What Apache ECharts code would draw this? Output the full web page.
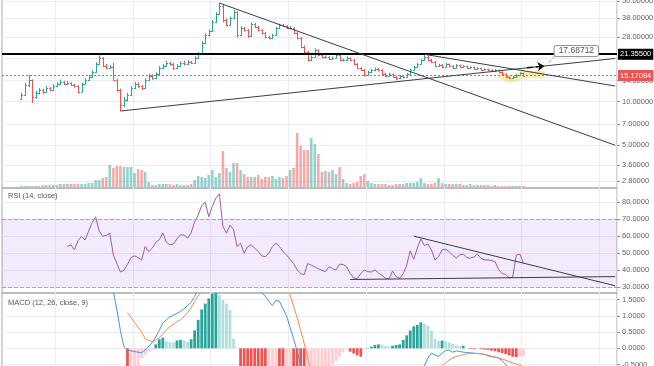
<!DOCTYPE html>
<html><head><meta charset="utf-8">
<script src="https://cdn.jsdelivr.net/npm/echarts@6/dist/echarts.min.js"></script>
<style>html,body{margin:0;padding:0;background:#fff}#c{width:654px;height:366px}</style>
</head><body><div id="c"></div>
<script>
// ---------- data ----------
const START = 5; // index of first bar
const opens = [10.5,11.11,13.04,14.13,10.76,11.47,12.04,11.66,12.43,12.04,
12.83,13.25,13.68,13.25,13.46,13.04,12.83,11.66,13.25,14.13,
14.82,16.05,18.25,20.1,17.67,17.12,17.39,14.13,12.04,9.47,
10.26,11.11,12.43,13.25,12.83,12.43,14.13,15.06,14.58,15.55,
17.12,17.67,18.54,18.25,17.12,17.67,18.54,18.25,18.84,18.54,
20.1,21.4,25.5,29.0,30.9,35.7,40.6,46.15,36.9,34.05,
38.1,41.9,29.0,32.5,31.4,28.6,34.6,33.0,31.4,29.96,
28.1,27.7,29.0,32.5,34.05,33.5,32.5,32.7,29.96,27.7,
23.95,22.1,19.45,20.4,22.8,21.07,20.4,20.5,19.8,20.1,
21.07,19.45,19.5,20.1,19.45,18.25,17.12,16.58,15.3,16.05,
16.58,16.84,16.58,15.55,15.06,15.55,14.82,14.58,15.06,14.82,
15.55,16.58,17.39,18.25,19.45,20.4,19.45,18.84,17.67,17.96,
17.39,18.25,17.67,17.12,17.96,17.39,17.67,17.12,17.39,16.84,
17.12,16.58,16.84,16.58,16.31,16.58,16.05,15.55,14.82,14.58,
14.82,15.3,15.8];
const highs = [11.5,13.5,15.3,14.3,11.9,12.4,12.3,12.8,12.6,13.2,
13.6,14.2,13.9,13.9,13.6,13.3,13.0,13.5,14.5,15.3,
16.5,18.8,21.0,20.4,18.3,18.0,18.6,14.4,12.3,10.8,
11.5,12.8,13.7,13.6,13.1,14.5,15.6,15.5,16.0,17.6,
18.2,19.2,18.9,18.5,18.2,19.0,19.2,19.5,19.2,20.6,
22.0,26.3,29.8,31.8,36.8,41.8,48.4,47.0,37.8,39.0,
43.3,42.5,33.4,33.0,31.9,35.5,35.3,33.6,31.9,30.5,
28.7,29.6,33.1,34.8,34.6,34.0,33.5,32.9,30.4,28.1,
24.5,22.5,20.9,23.4,23.1,21.5,20.9,20.7,20.6,21.6,
21.3,19.9,20.6,20.3,19.7,18.5,17.4,16.9,16.4,16.9,
17.2,17.1,16.8,15.8,15.9,15.7,15.1,15.3,15.2,15.8,
16.9,17.7,18.6,19.8,21.3,20.8,19.8,19.1,18.3,18.2,
18.6,18.4,17.9,18.2,18.1,17.9,17.8,17.6,17.5,17.3,
17.2,17.0,16.9,16.7,16.8,16.7,16.2,15.7,15.0,15.1,
15.5,16.0,15.9];
const lows = [10.3,11.0,12.6,9.78,10.5,11.2,11.3,11.5,11.8,11.9,
12.6,13.0,13.0,13.1,12.8,12.5,11.4,11.6,13.1,13.9,
14.6,15.9,18.0,17.3,16.9,16.8,13.9,11.7,8.6,9.2,
10.0,10.9,12.2,12.5,12.0,12.3,13.9,14.2,14.4,15.3,
16.8,17.4,17.8,16.6,16.9,17.4,17.9,18.0,18.2,18.3,
19.8,21.1,25.0,28.3,30.4,35.0,40.0,35.5,33.3,33.6,
37.4,27.9,28.4,30.6,27.8,28.2,32.4,30.7,29.3,27.5,
27.0,27.3,28.7,32.0,32.8,31.9,31.8,29.4,27.1,23.4,
21.6,19.0,19.1,20.1,20.6,20.0,19.9,19.4,19.5,19.9,
19.1,19.0,19.2,19.1,17.9,16.8,16.3,15.0,15.1,15.8,
16.3,16.2,15.3,14.8,14.9,14.6,14.1,14.4,14.5,14.7,
15.4,16.4,17.2,18.0,19.2,19.1,18.5,17.4,17.5,17.1,
17.2,17.4,16.9,17.0,17.2,17.2,16.9,16.9,16.6,16.7,
16.4,16.4,16.3,16.1,16.2,15.8,15.3,14.6,14.3,14.4,
14.7,15.2,15.0];
const closes = [11.11,13.04,14.13,10.76,11.47,12.04,11.66,12.43,12.04,12.83,
13.25,13.68,13.25,13.46,13.04,12.83,11.66,13.25,14.13,14.82,
16.05,18.25,20.1,17.67,17.12,17.39,14.13,12.04,9.47,10.26,
11.11,12.43,13.25,12.83,12.43,14.13,15.06,14.58,15.55,17.12,
17.67,18.54,18.25,17.12,17.67,18.54,18.25,18.84,18.54,20.1,
21.4,25.5,29.0,30.9,35.7,40.6,46.15,36.9,34.05,38.1,
41.9,29.0,32.5,31.4,28.6,34.6,33.0,31.4,29.96,28.1,
27.7,29.0,32.5,34.05,33.5,32.5,32.7,29.96,27.7,23.95,
22.1,19.45,20.4,22.8,21.07,20.4,20.5,19.8,20.1,21.07,
19.45,19.5,20.1,19.45,18.25,17.12,16.58,15.3,16.05,16.58,
16.84,16.58,15.55,15.06,15.55,14.82,14.58,15.06,14.82,15.55,
16.58,17.39,18.25,19.45,20.4,19.45,18.84,17.67,17.96,17.39,
18.25,17.67,17.12,17.96,17.39,17.67,17.12,17.39,16.84,17.12,
16.58,16.84,16.58,16.31,16.58,16.05,15.55,14.82,14.58,14.82,
15.3,15.8,15.17084];
const volumes = [1,1,1,1,1,1,2,2,2,2,
2,3,3,3,3,3,3,3,3,4,
4,7,7,9,10,22,19,21,21,20,
20,20,14,18,17,15,5,2,2,3,
3,3,3,2,3,2,2,2,3,7,
11,10,9,12,17,10,14,36,19,15,
24,24,17,13,10,10,10,12,8,10,
10,11,8,10,9,11,17,19,54,41,
37,37,49,43,33,15,16,15,17,13,
20,8,4,3,4,5,11,13,6,4,
3,3,3,3,2,2,3,3,3,4,
4,4,5,9,4,3,3,4,9,4,
3,3,3,3,3,2,2,3,2,2,
2,2,2,1,2,1,1,1,1,1,
1,1,1];
const RSI_START = 18;
const rsi = [54,55,52,57.5,59.8,57.8,63,68,71.5,63,
60,60.5,61.8,49,44,39,40,43.5,47.5,48.5,
47.5,46,54,51,53,56.5,58,62,56.5,55,
55.5,58.5,60.8,60.8,59,62,68.5,72.5,78,80,
71.5,77.5,82.5,85,66,61.8,66.6,64,54,55.9,
50,53.9,55,53,51,48.5,48,50,54,55.9,
54,51,49,46.5,44,40.2,38,37.5,44,43,
42,41,40,39.2,42.1,41,40.2,43.5,43.5,42,
38.2,35.5,35,38,40.2,39.2,39,40.2,38.5,37,
35.3,35,39.6,36.2,35.3,38,43,51.5,46.5,53,
58.5,54.5,55.5,52,46,48,51.9,52.5,51,49,
47.3,49,49.5,47.5,47.1,47.8,49.5,47,46.1,46.1,
45.8,45.1,40.5,38,37.6,35.5,36,49,49.5,44.5];
const MACD_START = 30;
const macd = [2.2,1.75,1.2,0.55,0.05,-0.05,-0.08,-0.1,-0.12,-0.14,
-0.05,0.05,0.18,0.35,0.55,0.78,0.88,0.97,1.02,1.08,
1.14,1.22,1.32,1.42,1.6,1.85,2.1,2.4,2.6,2.8,
3.0,3.1,3.0,2.9,2.8,2.6,2.4,2.2,2.1,2.0,
1.9,1.8,1.75,1.72,1.6,1.45,1.32,1.48,1.45,1.22,
1.0,0.65,0.3,-0.1,-0.5,-0.9,-1.3,-1.4,-1.5,-1.6,
-1.65,-1.7,-1.72,-1.72,-1.7,-1.68,-1.65,-1.62,-1.6,-1.6,
-1.6,-1.58,-1.55,-1.5,-1.45,-1.4,-1.35,-1.3,-1.25,-1.2,
-1.15,-1.1,-1.05,-1.0,-0.95,-0.88,-0.8,-0.72,-0.63,-0.55,
-0.3,-0.15,-0.2,-0.25,-0.15,-0.07,-0.05,-0.12,-0.08,-0.1,
-0.12,-0.13,-0.14,-0.15,-0.16,-0.17,-0.19,-0.23,-0.26,-0.28,
-0.3,-0.38,-0.5,-0.65,-0.75,-0.8,-0.85,-0.9];
const SIGNAL_START = 35;
const signal = [1.1,0.95,0.8,0.65,0.5,0.3,0.24,0.21,0.25,0.33,
0.45,0.57,0.66,0.74,0.82,0.88,0.98,1.1,1.25,1.45,
1.62,1.78,1.95,2.1,2.25,2.4,2.55,2.7,2.8,2.9,
2.95,2.95,2.9,2.8,2.7,2.6,2.5,2.4,2.3,2.2,
2.1,2.0,1.95,1.9,1.85,1.8,1.65,1.3,0.95,0.55,
0.15,-0.3,-0.7,-0.9,-1.1,-1.25,-1.35,-1.45,-1.5,-1.55,
-1.58,-1.6,-1.6,-1.6,-1.6,-1.58,-1.55,-1.5,-1.45,-1.4,
-1.35,-1.3,-1.25,-1.2,-1.15,-1.1,-1.05,-1.0,-0.98,-0.95,
-0.92,-0.9,-0.85,-0.8,-0.78,-0.75,-0.7,-0.65,-0.6,-0.55,
-0.45,-0.36,-0.3,-0.25,-0.22,-0.2,-0.17,-0.16,-0.16,-0.16,
-0.17,-0.19,-0.21,-0.24,-0.27,-0.3,-0.33,-0.37,-0.41,-0.45,
-0.49,-0.52,-0.58];
const HIST_START = 35;
const hist = [-1.15,-0.9,-0.8,-0.7,-0.3,-0.2,-0.12,-0.05,0.12,0.28,
0.33,0.22,0.19,0.18,0.24,0.26,0.25,0.2,0.28,0.55,
0.88,1.2,1.38,1.54,1.68,1.75,1.65,1.5,1.38,1.18,
0.3,0.02,-0.7,-0.9,-1.0,-1.1,-1.2,-1.25,-1.3,-1.32,
-1.28,-1.2,-1.1,-1.15,-1.2,-1.15,-1.1,-1.15,-1.3,-1.4,
-1.45,-1.4,-1.3,-1.2,-1.1,-1.0,-0.9,-0.7,-0.52,-0.4,
-0.26,-0.12,-0.02,-0.1,-0.16,-0.22,-0.26,-0.03,0.01,0.05,
0.1,0.12,0.11,0.07,0.06,0.08,0.1,0.12,0.26,0.4,
0.55,0.68,0.72,0.8,0.76,0.7,0.55,0.3,0.23,0.24,
0.22,0.18,0.14,0.1,0.07,0.08,0.02,-0.02,-0.03,-0.02,
-0.03,-0.04,-0.05,-0.07,-0.09,-0.12,-0.15,-0.18,-0.22,-0.26,
-0.27,-0.26,-0.25];
const priceTicks = [2.8, 3.6, 5, 7, 10, 14, 20, 28, 38, 50];
const rsiTicks = [30, 40, 50, 60, 70, 80];
const macdTicks = [-0.5, 0, 0.5, 1, 1.5];
const lastPrice = 15.17084;
const resistance = 21.355;
const arrowLabel = '17.68712';
const HL_START = 140;
const highlight = [15.9,15.2,14.6,14.35,14.35,14.7,15.1,15.35,15.5,15.55,15.55,15.5,15.4,15.3];

// ---------- chart ----------
const N = 174;
const cats = Array.from({length: N}, (_, i) => String(i));
function place(arr, start) { const out = new Array(N).fill(null); arr.forEach((v, k) => { out[start + k] = v; }); return out; }
const FONT = 'Liberation Sans, Arial, sans-serif';
const UP = '#26a69a', DOWN = '#ef5350';
const VUP = 'rgba(38,166,154,0.5)', VDOWN = 'rgba(239,83,80,0.5)';
const GRIDC = '#e9edf3';
const BORDER = '#a3a6ad';
const LBL = {fontSize: 7.5, color: '#5d6068', fontFamily: FONT, margin: 5};

function xAx(gi, split) {
  return {type: 'category', gridIndex: gi, data: cats, boundaryGap: true,
    axisLine: {show: false}, axisTick: {show: false}, axisLabel: {show: false},
    splitLine: split ? {show: true, interval: (idx) => idx >= 15 && (idx - 15) % 22 === 0, lineStyle: {color: GRIDC, width: 1}} : {show: false}};
}
function yAx(gi, type, min, max, ticks, dec) {
  return {type, gridIndex: gi, position: 'right', min, max, scale: true,
    axisLine: {show: false},
    axisTick: {show: true, customValues: ticks, length: 3, lineStyle: {color: '#8a8e96'}},
    axisLabel: Object.assign({show: true, customValues: ticks, formatter: (v) => Number(v).toFixed(dec)}, LBL),
    splitLine: {show: true, lineStyle: {color: GRIDC, width: 1}}};
}
const gridBase = {left: 2, right: 37, containLabel: false, outerBoundsMode: 'none', show: true, borderColor: BORDER, borderWidth: 1, backgroundColor: 'transparent'};

const candleData = closes.map((c, k) => [START + k, opens[k], c, lows[k], highs[k]]);
const volData = place(volumes.map((v, k) => ({value: v, itemStyle: {color: closes[k] >= opens[k] ? VUP : VDOWN}})), START);
const histData = place(hist.map((v, k) => {
  const prev = k > 0 ? hist[k - 1] : null;
  let color;
  if (v >= 0) color = (prev === null || v > prev) ? '#26a69a' : '#b2dfdb';
  else color = (prev === null || v < prev) ? '#ef5350' : '#ffcdd2';
  return {value: v, itemStyle: {color}};
}), HIST_START);

const TL = {color: '#3a3d44', width: 1, type: 'solid'};
const option = {
  animation: false,
  backgroundColor: '#fff',
  title: [
    {text: 'RSI (14, close)', left: 8, top: 192, padding: 0, textStyle: {fontSize: 7.5, fontWeight: 'normal', color: '#555', fontFamily: FONT}},
    {text: 'MACD (12, 26, close, 9)', left: 8, top: 299, padding: 0, textStyle: {fontSize: 7.5, fontWeight: 'normal', color: '#555', fontFamily: FONT}}
  ],
  grid: [
    Object.assign({}, gridBase, {top: -1, height: 189}),
    Object.assign({}, gridBase, {top: 125, height: 62, show: false}),
    Object.assign({}, gridBase, {top: 188, height: 105}),
    Object.assign({}, gridBase, {top: 293, height: 74})
  ],
  xAxis: [xAx(0, true), xAx(1, false), xAx(2, true), xAx(3, true)],
  yAxis: [
    yAx(0, 'log', 2.509, 51.62, priceTicks, 5),
    {type: 'value', gridIndex: 1, min: 0, max: 62, show: false, splitLine: {show: false}},
    yAx(2, 'value', 26.65, 88.41, rsiTicks, 4),
    yAx(3, 'value', -0.577, 1.707, macdTicks, 4)
  ],
  series: [
    {type: 'bar', name: 'Volume', xAxisIndex: 1, yAxisIndex: 1, data: volData, barWidth: '72%', z: 1, silent: true},
    {type: 'line', name: 'highlight', xAxisIndex: 0, yAxisIndex: 0, data: place(highlight, HL_START), smooth: true, showSymbol: false,
      lineStyle: {color: 'rgba(255,214,80,0.5)', width: 7}, z: 1, silent: true},
    {type: 'custom', name: 'Price', xAxisIndex: 0, yAxisIndex: 0, z: 3, data: candleData, encode: {x: 0, y: [1, 2, 3, 4]},
      renderItem(params, api) {
        const i = api.value(0), o = api.value(1), c = api.value(2), l = api.value(3), h = api.value(4);
        const pH = api.coord([i, h]), pL = api.coord([i, l]), pO = api.coord([i, o]), pC = api.coord([i, c]);
        const col = c >= o ? UP : DOWN;
        const x = Math.round(pH[0]) + 0.5;
        const st = {stroke: col, lineWidth: 1};
        return {type: 'group', children: [
          {type: 'line', shape: {x1: x, y1: pH[1], x2: x, y2: pL[1]}, style: st},
          {type: 'line', shape: {x1: x - 1.5, y1: Math.round(pO[1]) + 0.5, x2: x, y2: Math.round(pO[1]) + 0.5}, style: st},
          {type: 'line', shape: {x1: x, y1: Math.round(pC[1]) + 0.5, x2: x + 1.5, y2: Math.round(pC[1]) + 0.5}, style: st}
        ]};
      }},
    {type: 'line', name: 'drawings', xAxisIndex: 0, yAxisIndex: 0, data: place([], 0), showSymbol: false, z: 5, silent: true,
      markLine: {silent: true, symbol: ['none', 'none'], animation: false, label: {show: false},
        data: [
          {yAxis: lastPrice, lineStyle: {color: '#f0575a', width: 1, type: [2, 2], opacity: 1},
            label: {show: true, position: 'end', distance: 1, formatter: '15.17084', color: '#fff', backgroundColor: '#ef5350', padding: [2, 2, 1, 2], fontSize: 7.5, fontFamily: FONT, lineHeight: 8}},
          {yAxis: resistance, lineStyle: {color: '#000', width: 2, type: 'solid'},
            label: {show: true, position: 'end', distance: 1, formatter: '21.35500', color: '#fff', backgroundColor: '#000', padding: [2, 2, 1, 2], fontSize: 7.5, fontFamily: FONT, lineHeight: 8}},
          [{coord: ['61', 48.4], lineStyle: TL}, {coord: ['173', 4.97], lineStyle: TL}],
          [{coord: ['119', 21.3], lineStyle: TL}, {coord: ['173', 12.83], lineStyle: TL}],
          [{coord: ['33', 8.6], lineStyle: TL}, {coord: ['173', 19.93], lineStyle: TL}],
          [{coord: ['156', 21.0], lineStyle: {color: '#9598a1', width: 1}}, {coord: ['154', 18.3], lineStyle: {color: '#9598a1', width: 1}}],
          [{coord: ['148', 17.15], symbol: 'none', lineStyle: {color: '#111', width: 1.5}}, {coord: ['153', 17.68], symbol: 'arrow', symbolSize: 7, lineStyle: {color: '#111', width: 1.5}}]
        ]},
      markPoint: {silent: true, animation: false, data: [
        {coord: ['162', 22.47], symbol: 'rect', symbolSize: [1, 1], itemStyle: {color: 'rgba(0,0,0,0)'},
          label: {show: true, position: 'inside', formatter: arrowLabel, color: '#50535e', fontSize: 8.5, fontFamily: FONT,
            backgroundColor: '#fff', borderColor: '#8f959e', borderWidth: 1, borderRadius: 2, padding: [1, 4, 0, 4], lineHeight: 9}}
      ]}},
    {type: 'line', name: 'RSI band', xAxisIndex: 2, yAxisIndex: 2, data: place([], 0), showSymbol: false, z: 1, silent: true,
      markArea: {silent: true, itemStyle: {color: 'rgba(155,80,230,0.12)'}, data: [[{yAxis: 30}, {yAxis: 70}]]},
      markLine: {silent: true, symbol: ['none', 'none'], label: {show: false},
        lineStyle: {color: '#a8a2bf', type: 'dashed', width: 1}, data: [{yAxis: 70}, {yAxis: 30}]}},
    {type: 'line', name: 'RSI', xAxisIndex: 2, yAxisIndex: 2, data: place(rsi, RSI_START), showSymbol: false, z: 3,
      lineStyle: {color: '#9b59b6', width: 1}, clip: true,
      markLine: {silent: true, symbol: ['none', 'none'], label: {show: false},
        data: [
          [{coord: ['116', 60.1], lineStyle: TL}, {coord: ['173', 30.9], lineStyle: TL}],
          [{coord: ['98', 34.6], lineStyle: TL}, {coord: ['173', 36.3], lineStyle: TL}]
        ]}},
    {type: 'bar', name: 'Histogram', xAxisIndex: 3, yAxisIndex: 3, data: histData, barWidth: '78%', clip: true, z: 2, silent: true},
    {type: 'line', name: 'MACD', xAxisIndex: 3, yAxisIndex: 3, data: place(macd, MACD_START), showSymbol: false, clip: true, z: 3,
      lineStyle: {color: '#4a90e2', width: 1}},
    {type: 'line', name: 'Signal', xAxisIndex: 3, yAxisIndex: 3, data: place(signal, SIGNAL_START), showSymbol: false, clip: true, z: 3,
      lineStyle: {color: '#f08a4b', width: 1}}
  ]
};
const chart = echarts.init(document.getElementById('c'), null, {renderer: 'canvas'});
chart.setOption(option);
</script>
</body></html>
